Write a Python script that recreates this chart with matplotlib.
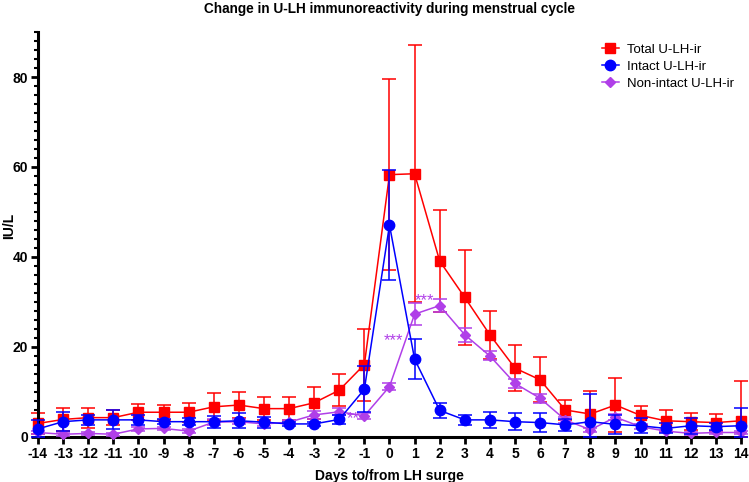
import numpy as np
import matplotlib
matplotlib.use("Agg")
import matplotlib.pyplot as plt
from matplotlib.ticker import MultipleLocator
from matplotlib.lines import Line2D

plt.rcParams["font.family"] = ["Liberation Sans", "DejaVu Sans"]
plt.rcParams["axes.unicode_minus"] = False

days = list(range(-14, 15))

total = [3.0, 3.9, 4.3, 4.3, 5.5, 5.5, 5.5, 6.7, 7.1, 6.3, 6.3, 7.6, 10.4, 16.1,
         58.3, 58.5, 39.1, 31.0, 22.7, 15.3, 12.7, 6.0, 5.1, 7.1, 4.8, 3.6, 3.4, 3.2, 3.6]
total_err = [2.3, 2.6, 2.2, 1.7, 1.8, 1.7, 2.1, 3.0, 2.8, 2.6, 2.6, 3.6, 3.6, 8.0,
             21.3, 28.6, 11.4, 10.6, 5.3, 5.1, 5.0, 2.2, 5.1, 5.9, 2.1, 2.4, 1.9, 1.9, 8.9]

intact = [1.8, 3.4, 3.8, 3.8, 3.8, 3.4, 3.4, 3.4, 3.6, 3.3, 2.9, 2.9, 3.9, 10.6,
          47.1, 17.3, 5.9, 3.8, 3.8, 3.4, 3.2, 2.7, 3.4, 2.8, 2.5, 1.9, 2.5, 2.3, 2.5]
intact_err = [2.0, 2.1, 1.1, 2.1, 1.1, 0.6, 0.8, 1.3, 1.7, 1.2, 0.4, 0.4, 1.0, 5.1,
              12.3, 4.4, 1.6, 1.1, 1.7, 1.9, 2.2, 1.3, 6.1, 2.1, 1.7, 1.1, 1.8, 0.8, 4.0]

nonintact = [1.0, 0.6, 0.8, 0.6, 1.8, 1.9, 1.3, 3.3, 3.4, 2.9, 3.3, 4.9, 5.6, 4.7,
             11.2, 27.3, 29.2, 22.7, 18.0, 11.9, 8.6, 3.8, 1.6, 4.4, 2.3, 1.3, 0.8, 1.0, 1.0]
nonintact_err = [0.3, 0.3, 0.3, 0.3, 0.4, 0.4, 0.4, 0.6, 0.6, 0.5, 0.5, 0.8, 0.8, 0.6,
                 0.8, 2.5, 1.5, 1.5, 1.0, 1.0, 1.0, 0.6, 0.5, 0.7, 0.5, 0.3, 0.3, 0.3, 0.3]

labels = ["Total U-LH-ir", "Intact U-LH-ir", "Non-intact U-LH-ir"]
red, blue, purple = "#FF0000", "#0000FF", "#B03FE8"

stars = [(-1.45, 4.0, "**"), (0.15, 21.5, "***"), (1.4, 30.2, "***")]


def yerr_below_axis(vals, errs):
    # bars are cut at the x axis in the original
    vals, errs = np.array(vals), np.array(errs)
    return [np.minimum(errs, vals), errs]


fig = plt.figure(figsize=(7.49, 4.82), dpi=100)
ax = fig.add_axes([0.0507, 0.0934, 0.9386, 0.8402])

kw = dict(capsize=5, elinewidth=1.1, capthick=1.1, linewidth=1.1, clip_on=False)
e1 = ax.errorbar(days, total, yerr=yerr_below_axis(total, total_err), color=red,
                 marker="s", ms=6.5, zorder=2, **kw)
e3 = ax.errorbar(days, nonintact, yerr=yerr_below_axis(nonintact, nonintact_err),
                 color=purple, marker="D", ms=5.5, zorder=3, **kw)
e2 = ax.errorbar(days, intact, yerr=yerr_below_axis(intact, intact_err), color=blue,
                 marker="o", ms=7.5, zorder=4, **kw)
for b in (e1, e2, e3):
    for art in b[1] + b[2]:
        art.set_clip_on(False)

for x, y, s in stars:
    ax.text(x, y, s, color=purple, fontsize=12, ha="center", va="center")

ax.set_xlim(-14, 14)
ax.set_ylim(0, 90)
ax.set_xticks(days)
ax.set_yticks([0, 20, 40, 60, 80])
ax.yaxis.set_minor_locator(MultipleLocator(2))
ax.spines["top"].set_visible(False)
ax.spines["right"].set_visible(False)
ax.spines["left"].set_linewidth(2.2)
ax.spines["bottom"].set_linewidth(2.2)
ax.tick_params(axis="both", which="major", length=5, width=2, labelsize=10, pad=2)
ax.tick_params(axis="y", which="minor", length=3, width=1.5)
for t in ax.get_xticklabels() + ax.get_yticklabels():
    t.set_fontweight("bold")

ax.set_xlabel("Days to/from LH surge", fontsize=10, fontweight="bold", labelpad=6)
ax.set_ylabel("IU/L", fontsize=10, fontweight="bold")
ax.yaxis.set_label_coords(-0.031, 0.52)
fig.suptitle("Change in U-LH immunoreactivity during menstrual cycle",
             fontsize=9.8, fontweight="bold", y=0.995, x=0.52)

handles = [
    Line2D([], [], color=red, marker="s", ms=6.5, lw=1.1),
    Line2D([], [], color=blue, marker="o", ms=7.5, lw=1.1),
    Line2D([], [], color=purple, marker="D", ms=5.5, lw=1.1),
]
ax.legend(handles=handles, labels=labels, loc="upper left", bbox_to_anchor=(0.785, 1.0),
          frameon=False, fontsize=9.5, handlelength=1.3, handletextpad=0.6,
          labelspacing=0.35)

fig.savefig("out.png", dpi=100)
